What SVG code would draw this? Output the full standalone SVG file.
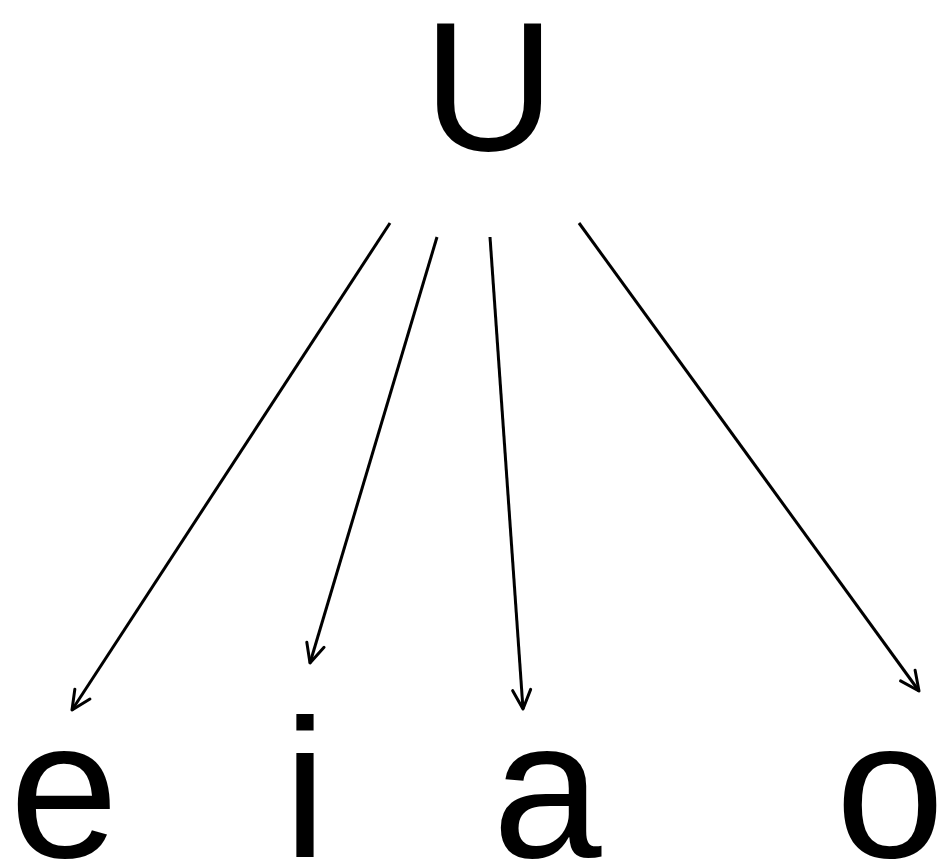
<svg xmlns="http://www.w3.org/2000/svg" width="938" height="860" viewBox="0 0 938 860">
  <style>
    .lbl { font-family: "Liberation Sans", Arial, sans-serif; fill: #000; text-anchor: middle; }
    .top { font-size: 183px; }
    .bot { font-size: 196px; }
    .edge { stroke: #000; stroke-width: 3; fill: none; marker-end: url(#arr); }
  </style>
  <defs>
    <marker id="arr" markerUnits="userSpaceOnUse" markerWidth="30" markerHeight="30" refX="0" refY="0" orient="auto" overflow="visible">
      <path d="M-19,-9 L0,0 L-19,9" fill="none" stroke="#000" stroke-width="3" stroke-linecap="round" stroke-linejoin="round"/>
    </marker>
  </defs>
  <rect width="938" height="860" fill="#fff"/>
  <g id="node-U"><text class="lbl top" x="489" y="150">U</text></g>
  <g id="node-e"><text class="lbl bot" x="64" y="857">e</text></g>
  <g id="node-i"><text class="lbl bot" x="305" y="857">i</text></g>
  <g id="node-a"><text class="lbl bot" x="547" y="857">a</text></g>
  <g id="node-o"><text class="lbl bot" x="890" y="857">o</text></g>
  <g id="connectors">
    <line class="edge" x1="390" y1="223" x2="72" y2="710"/>
    <line class="edge" x1="437" y1="237" x2="310" y2="663"/>
    <line class="edge" x1="490" y1="237" x2="523" y2="709"/>
    <line class="edge" x1="579" y1="223" x2="919" y2="691"/>
  </g>
</svg>
